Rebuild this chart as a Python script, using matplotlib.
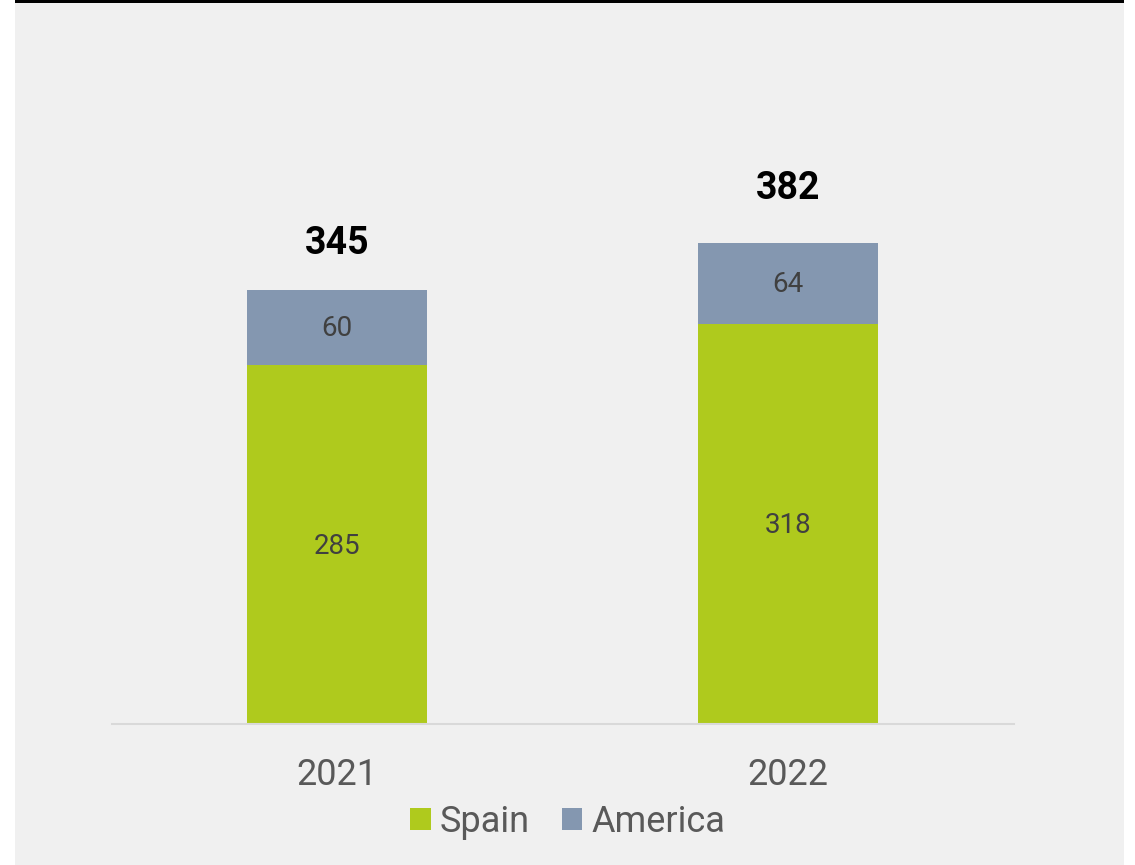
import matplotlib
matplotlib.use("Agg")
import matplotlib.pyplot as plt
from matplotlib.patches import Rectangle, Patch

plt.rcParams['font.family'] = ['Roboto', 'DejaVu Sans']

years = ['2021', '2022']
spain = [285, 318]
america = [60, 64]
totals = [345, 382]
total_pad = [20, 26]  # points above each stack

green = '#AFCA1D'
slate = '#8497B0'
bg = '#F0F0F0'

W, H = 1135, 865
fig = plt.figure(figsize=(W / 100, H / 100), dpi=100, facecolor='white')

# grey panel with a thin black rule across the top
fig.patches.append(Rectangle((15 / W, 0), 1109 / W, 1, transform=fig.transFigure,
                             facecolor=bg, edgecolor='none', zorder=-2))
fig.patches.append(Rectangle((15 / W, 1 - 3 / H), 1109 / W, 3 / H, transform=fig.transFigure,
                             facecolor='black', edgecolor='none', zorder=-1))

ax = fig.add_axes([111.5 / W, (H - 724) / H, 902 / W, 579 / H])
ax.set_facecolor('none')

x = range(len(years))
ax.bar(x, spain, width=0.4, color=green, zorder=2)
ax.bar(x, america, width=0.4, bottom=spain, color=slate, zorder=2)

for i in x:
    ax.annotate(str(spain[i]), (i, spain[i] / 2), xytext=(0, -1.5),
                textcoords='offset points', ha='center', va='center',
                fontsize=20, color='#404040')
    ax.annotate(str(america[i]), (i, spain[i] + america[i] / 2), xytext=(0, -1),
                textcoords='offset points', ha='center', va='center',
                fontsize=20, color='#404040')
    ax.annotate(str(totals[i]), (i, spain[i] + america[i]), xytext=(0, total_pad[i]),
                textcoords='offset points', ha='center', va='bottom',
                fontsize=27, fontweight='bold', color='black')

ax.set_xlim(-0.5, 1.5)
ax.set_ylim(0, 460)
ax.set_xticks(list(x))
ax.set_xticklabels(years, fontsize=26, color='#595959')
ax.tick_params(axis='x', length=0, pad=24)
ax.set_yticks([])
for s in ['top', 'left', 'right']:
    ax.spines[s].set_visible(False)
ax.spines['bottom'].set_color('#D9D9D9')
ax.spines['bottom'].set_linewidth(1.5)

handles = [Patch(facecolor=green, label='Spain'), Patch(facecolor=slate, label='America')]
leg = fig.legend(handles=handles, loc='center', bbox_to_anchor=(0.5, 0.05), ncol=2,
                 frameon=False, fontsize=26, handlelength=0.58, handleheight=0.58,
                 handletextpad=0.25, columnspacing=0.88, borderpad=0)
for t in leg.get_texts():
    t.set_color('#595959')

fig.savefig('out.png', dpi=100, facecolor='white')
